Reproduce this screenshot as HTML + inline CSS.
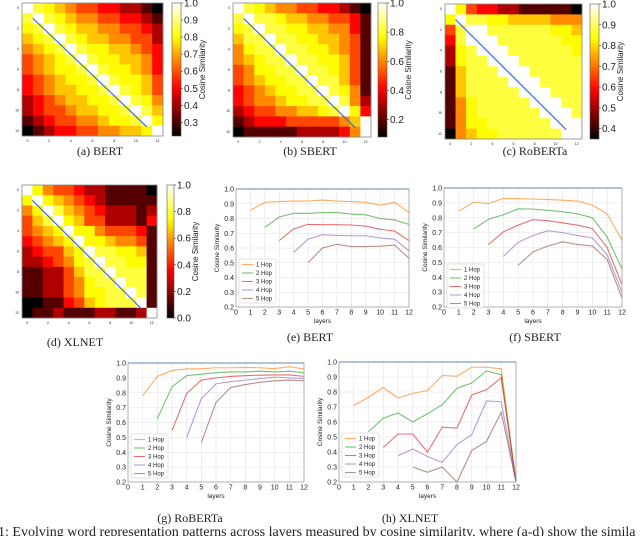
<!DOCTYPE html>
<html><head><meta charset="utf-8"><style>
html,body{margin:0;padding:0;background:#fff;width:640px;height:536px;overflow:hidden}
svg{display:block}
text{font-family:"Liberation Sans",sans-serif}
.cap{font-family:"Liberation Serif",serif;font-size:12px}
</style></head><body>
<svg id="fig" width="640" height="536" viewBox="0 0 640 536" xmlns="http://www.w3.org/2000/svg"></svg>
<script>
// ---- heatmap data: digit level per cell (0..9) mapped into each colorbar's range ----
const bertRows=["9876544332210","8987655443321","7898766554432","6789876655442","5678987766543","4567898776653","4567789877653","3456778987764","3456677898764","2345667789875","2344566778986","1234455677897","0123344556679"];
const sbertRows=["9876554433210","8988766554431","7898877665531","6889887766541","5788988776541","5678898877641","4577889887641","4567788988641","3456778898751","3455677889852","2344556678973","1233344444569","0111112222359"];
const robertaRows=["9743322111110","7988776666555","4899888888776","3899988888877","2789998888887","2788999888888","1688899988888","1688889998888","1688888999888","1578888899988","1578888889998","1577888888999","0567788888899"];
const xlnetRows=["9754432211110","7976543211111","5798654322212","4689764422213","4567977544431","3456797765541","2344679887761","2234578988771","1122468898881","1122457889881","1122457788981","0011346788891","0112111221129"];
const levelFrac=[0,0.12,0.25,0.37,0.47,0.57,0.66,0.74,0.81,1];
const cbRanges=[[0.22,1.0],[0.08,1.0],[0.35,1.0],[0.0,1.0]];
const cbTicksA=[0.3,0.4,0.5,0.6,0.7,0.8,0.9,1.0];
const cbTicksB=[0.2,0.4,0.6,0.8,1.0];
const cbTicksC=[0.4,0.5,0.6,0.7,0.8,0.9,1.0];
const cbTicksD=[0.0,0.2,0.4,0.6,0.8,1.0];
// ---- line chart data ----
const hopNames=["1 Hop","2 Hop","3 Hop","4 Hop","5 Hop"];
const xTicks=[0,1,2,3,4,5,6,7,8,9,10,11,12];
const yTicks=[0.2,0.3,0.4,0.5,0.6,0.7,0.8,0.9,1.0];
const bertHops=[[.855,.91,.915,.918,.918,.925,.918,.915,.91,.89,.91,.84],[.74,.81,.835,.835,.84,.84,.83,.825,.80,.79,.76],[.65,.73,.76,.758,.758,.756,.748,.727,.715,.65],[.57,.66,.69,.685,.683,.683,.668,.66,.58],[.50,.60,.625,.61,.61,.612,.62,.53]];
const sbertHops=[[.845,.905,.895,.93,.928,.926,.922,.918,.912,.885,.825,.65],[.725,.79,.82,.86,.858,.85,.84,.826,.80,.67,.455],[.62,.705,.75,.788,.78,.765,.75,.728,.60,.35],[.54,.635,.68,.713,.70,.68,.665,.55,.30],[.48,.57,.61,.638,.62,.61,.52,.26]];
const robertaHops=[[.78,.91,.95,.96,.962,.968,.968,.97,.968,.962,.975,.96],[.625,.84,.915,.925,.935,.94,.94,.945,.94,.945,.935],[.545,.795,.885,.90,.91,.915,.918,.92,.92,.91],[.50,.76,.86,.875,.885,.895,.905,.9,.895],[.465,.735,.835,.855,.87,.88,.885,.88]];
const xlnetHops=[[.71,.765,.83,.76,.79,.81,.91,.905,.965,.965,.955,.2],[.535,.625,.66,.60,.655,.715,.825,.86,.94,.915,.2],[.43,.52,.52,.40,.565,.56,.78,.815,.895,.2],[.375,.42,.37,.33,.45,.515,.74,.735,.2],[.30,.265,.30,.20,.41,.47,.665,.2]];

const svg=document.getElementById('fig');
const NS="http://www.w3.org/2000/svg";
function mk(tag,attrs,parent){const e=document.createElementNS(NS,tag);for(const k in attrs)e.setAttribute(k,attrs[k]);(parent||svg).appendChild(e);return e;}
function txt(x,y,s,size,anchor,parent,extra){const t=mk('text',Object.assign({x:x,y:y,'font-size':size,'text-anchor':anchor||'middle',fill:'#222'},extra||{}),parent);t.textContent=s;return t;}
function hot(t){t=Math.max(0,Math.min(1,t));const r=Math.min(1,t/0.365),g=Math.max(0,Math.min(1,(t-0.365)/0.381)),b=Math.max(0,Math.min(1,(t-0.746)/0.254));return `rgb(${Math.round(r*255)},${Math.round(g*255)},${Math.round(b*255)})`;}

let gid=0;
function heatmap(name,rows,range,ticks,box,cb){
  const g=mk('g',{});
  
  
  const n=rows.length,cw=(box.x1-box.x0)/n,ch=(box.y1-box.y0)/n;
  const cx=c=>box.x0+c*cw, cy=r=>box.y0+r*ch;
  rows.forEach((row,r)=>{[...row].forEach((d,c)=>{
    const v=range[0]+levelFrac[+d]*(range[1]-range[0]);
    const t=(v-range[0])/(range[1]-range[0]);
    const rect=mk('rect',{x:cx(c),y:cy(r),width:cw+0.3,height:ch+0.3,fill:hot(t)},g);
    
    
  });});
  mk('rect',{x:box.x0,y:box.y0,width:box.x1-box.x0,height:box.y1-box.y0,fill:'none',stroke:'#888','stroke-width':0.8},g);
  for(let i=0;i<=12;i+=2){
    txt(cx(i+0.5),box.y1+6,String(i),3.5,'middle',g);
    txt(box.x0-3,cy(i+0.5)+1,String(i),3.5,'end',g);
  }
  const ln=mk('line',{x1:cx(1.0),y1:cy(1.5),x2:cx(11.5),y2:cy(12.1),stroke:'#3b6fd6','stroke-width':1.2},g);
  
  
  const id='cbg'+(gid++);
  const defs=mk('defs',{},g);
  const lg=mk('linearGradient',{id:id,x1:0,y1:1,x2:0,y2:0},defs);
  for(let i=0;i<=20;i++)mk('stop',{offset:i/20,'stop-color':hot(i/20)},lg);
  const cbr=mk('rect',{x:cb.x0,y:box.y0,width:cb.w,height:box.y1-box.y0,fill:`url(#${id})`,stroke:'#555','stroke-width':0.6},g);
  
  
  const cby=v=>box.y1-(v-range[0])/(range[1]-range[0])*(box.y1-box.y0);
  ticks.forEach(v=>{
    mk('line',{x1:cb.x0+cb.w,x2:cb.x0+cb.w+2,y1:cby(v),y2:cby(v),stroke:'#333','stroke-width':0.6},g);
    txt(cb.x0+cb.w+3,cby(v)+3.5,v.toFixed(1),10,'start',g);
  });
  const lx=cb.x0+cb.w+24,ly=(box.y0+box.y1)/2;
  const lab=txt(lx,ly,'Cosine Similarity',8,'middle',g,{transform:`rotate(-90 ${lx} ${ly})`});
  
  
}
heatmap('bert',bertRows,cbRanges[0],cbTicksA,{x0:22,y0:3,x1:163,y1:136},{x0:172,w:9});
heatmap('sbert',sbertRows,cbRanges[1],cbTicksB,{x0:233,y0:3,x1:371,y1:137},{x0:378,w:9});
heatmap('roberta',robertaRows,cbRanges[2],cbTicksC,{x0:445,y0:4,x1:582,y1:139},{x0:590,w:9});
heatmap('xlnet',xlnetRows,cbRanges[3],cbTicksD,{x0:22,y0:185,x1:157,y1:318},{x0:167,w:7});

const hopColors=['#ff7f0e','#2ca02c','#d62728','#9467bd','#8c564b'];
function linechart(name,hops,box,leg){
  const g=mk('g',{});
  
  
  const X=v=>box.x0+v/12*(box.x1-box.x0);
  const Y=v=>box.y1-(v-0.2)/0.8*(box.y1-box.y0);
  xTicks.forEach(v=>{
    mk('line',{x1:X(v),x2:X(v),y1:box.y0,y2:box.y1,stroke:'#e2e2e2','stroke-width':0.6},g);
    txt(X(v),box.y1+7.5,String(v),7,'middle',g);
  });
  yTicks.forEach(v=>{
    mk('line',{x1:box.x0,x2:box.x1,y1:Y(v),y2:Y(v),stroke:'#e2e2e2','stroke-width':0.6},g);
    txt(box.x0-2,Y(v)+2.5,v.toFixed(1),7,'end',g);
  });
  hops.forEach((vals,h)=>{
    const pts=vals.map((v,i)=>`${X(h+1+i).toFixed(2)},${Y(v).toFixed(2)}`).join(' ');
    const pl=mk('polyline',{points:pts,fill:'none',stroke:hopColors[h],'stroke-opacity':0.65,'stroke-width':1.1},g);
    
    
  });
  mk('rect',{x:box.x0,y:box.y0,width:box.x1-box.x0,height:box.y1-box.y0,fill:'none',stroke:'#999','stroke-width':0.7},g);
  mk('line',{x1:box.x0,x2:box.x1,y1:box.y0,y2:box.y0,stroke:'#6688aa','stroke-width':1},g);
  const xl=txt((box.x0+box.x1)/2,box.y1+16,'layers',6.5,'middle',g);
  
  
  const yx=box.x0-17,yy=(box.y0+box.y1)/2;
  const yl=txt(yx,yy,'Cosine Similarity',6.5,'middle',g,{transform:`rotate(-90 ${yx} ${yy})`});
  
  
  const lgG=mk('g',{},g);
  
  
  mk('rect',{x:leg.x,y:leg.y,width:37,height:44,rx:2,fill:'#fff','fill-opacity':0.85,stroke:'#ccc','stroke-width':0.5},lgG);
  hopNames.forEach((nm,h)=>{
    const yy2=leg.y+5.5+h*8.5;
    mk('line',{x1:leg.x+3,x2:leg.x+14,y1:yy2,y2:yy2,stroke:hopColors[h],'stroke-opacity':0.65,'stroke-width':1.1},lgG);
    const t=txt(leg.x+17,yy2+2.2,nm,6,'start',lgG);
    
    
  });
}
linechart('bert',bertHops,{x0:236,y0:189,x1:409,y1:307},{x:239,y:259});
linechart('sbert',sbertHops,{x0:444,y0:188,x1:622,y1:307},{x:447,y:264});
linechart('roberta',robertaHops,{x0:128,y0:363,x1:304,y1:482},{x:131,y:434});
linechart('xlnet',xlnetHops,{x0:339,y0:362,x1:516,y1:482},{x:342,y:433});

const caps=[["(a) BERT",100,155],["(b) SBERT",310,155],["(c) RoBERTa",535,155],["(d) XLNET",75,346],["(e) BERT",310,341],["(f) SBERT",535,341],["(g) RoBERTa",190,522],["(h) XLNET",410,522]];
caps.forEach(c=>{const t=txt(c[1],c[2],c[0],12,'middle');t.setAttribute('class','cap');
  
  });
const fc=txt(-2,536,"1: Evolving word representation patterns across layers measured by cosine similarity, where (a-d) show the simila",14,'start');
fc.setAttribute('class','cap');fc.setAttribute('style','font-size:14px');


</script>
</body></html>
